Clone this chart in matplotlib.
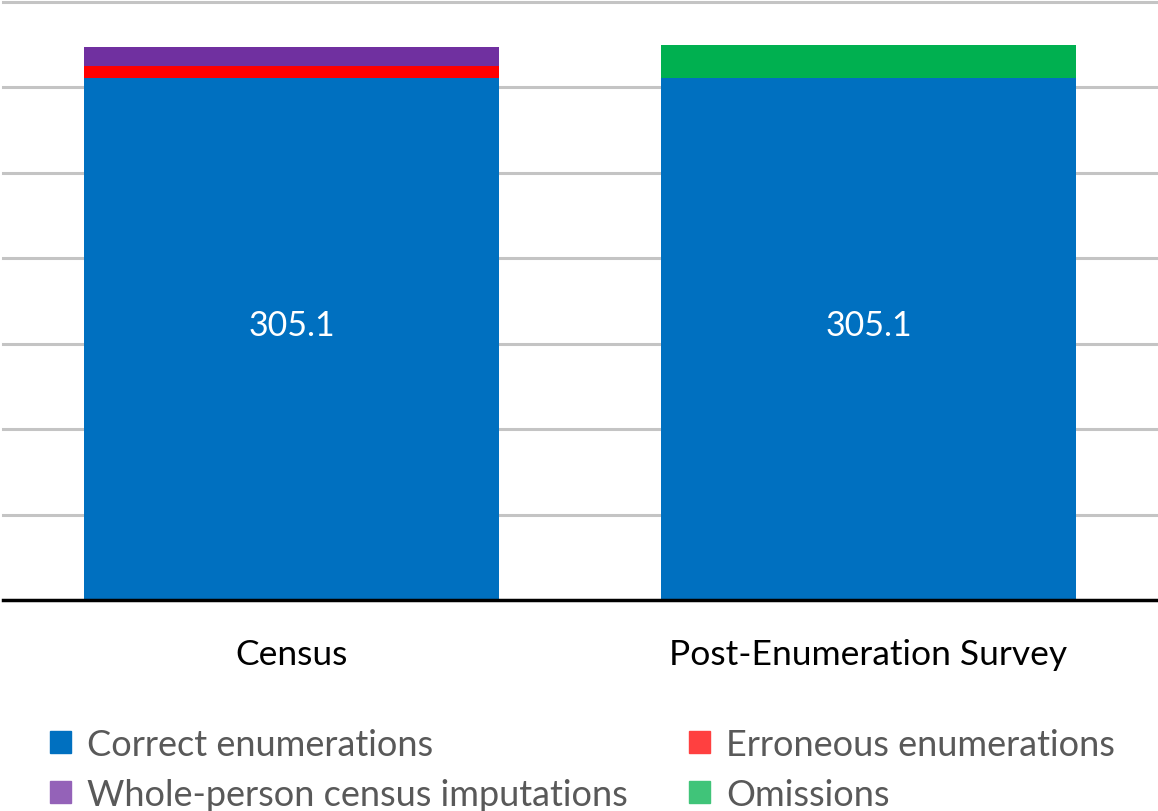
import matplotlib.pyplot as plt
from matplotlib.patches import Patch

plt.rcParams['font.family'] = ['Lato', 'DejaVu Sans']

categories = ['Census', 'Post-Enumeration Survey']
correct = [305.1, 305.1]
erroneous = [7.2, 0]
imputations = [11.1, 0]
omissions = [0, 19.2]

series_names = ['Correct enumerations', 'Whole-person census imputations',
                'Erroneous enumerations', 'Omissions']
bar_colors = {'Correct enumerations': '#0070C0', 'Erroneous enumerations': '#FF0000',
              'Whole-person census imputations': '#7030A0', 'Omissions': '#00B050'}
legend_colors = {'Correct enumerations': '#0070C0', 'Erroneous enumerations': '#FF4040',
                 'Whole-person census imputations': '#9462B8', 'Omissions': '#40C479'}

fig = plt.figure(figsize=(11.58, 8.12), dpi=100)
ax = fig.add_axes([3 / 1158, 1 - 601 / 812, 1154 / 1158, 598.5 / 812])

x = list(range(len(categories)))
w = 0.72
ax.bar(x, correct, w, color=bar_colors['Correct enumerations'], zorder=2)
bottom = list(correct)
ax.bar(x, erroneous, w, bottom=bottom, color=bar_colors['Erroneous enumerations'], zorder=2)
bottom = [b + e for b, e in zip(bottom, erroneous)]
ax.bar(x, imputations, w, bottom=bottom, color=bar_colors['Whole-person census imputations'], zorder=2)
bottom = [b + i for b, i in zip(bottom, imputations)]
ax.bar(x, omissions, w, bottom=bottom, color=bar_colors['Omissions'], zorder=2)

for xi, v in zip(x, correct):
    ax.annotate(f'{v:.1f}', (xi, v / 2), xytext=(0, 10), textcoords='offset points',
                ha='center', va='center', color='white', fontsize=24.5)

ax.set_xlim(-0.5, 1.5)
ax.set_ylim(0, 350)
ax.set_yticks(range(50, 351, 50))
ax.yaxis.grid(True, color='#C4C4C4', linewidth=2.2, zorder=0)
for gl in ax.get_ygridlines():
    gl.set_clip_on(False)
ax.tick_params(axis='y', left=False, labelleft=False)
ax.tick_params(axis='x', bottom=False, labelsize=25.5, pad=24, labelcolor='black')
ax.set_xticks(x)
ax.set_xticklabels(categories)
for s in ['top', 'right', 'left']:
    ax.spines[s].set_visible(False)
ax.spines['bottom'].set_linewidth(2.5)
ax.spines['bottom'].set_color('black')
ax.spines['bottom'].set_zorder(3)

handles = [Patch(color=legend_colors[n], label=n) for n in series_names]
leg = fig.legend(handles=handles, ncol=2, loc='upper left', bbox_to_anchor=(50 / 1158, 1 - 729 / 812),
                 frameon=False, fontsize=26, handlelength=0.58, handleheight=0.58,
                 handletextpad=0.45, columnspacing=1.68, labelspacing=0.47, borderaxespad=0,
                 borderpad=0)
for t in leg.get_texts():
    t.set_color('#595959')

fig.savefig('out.png', dpi=100)
